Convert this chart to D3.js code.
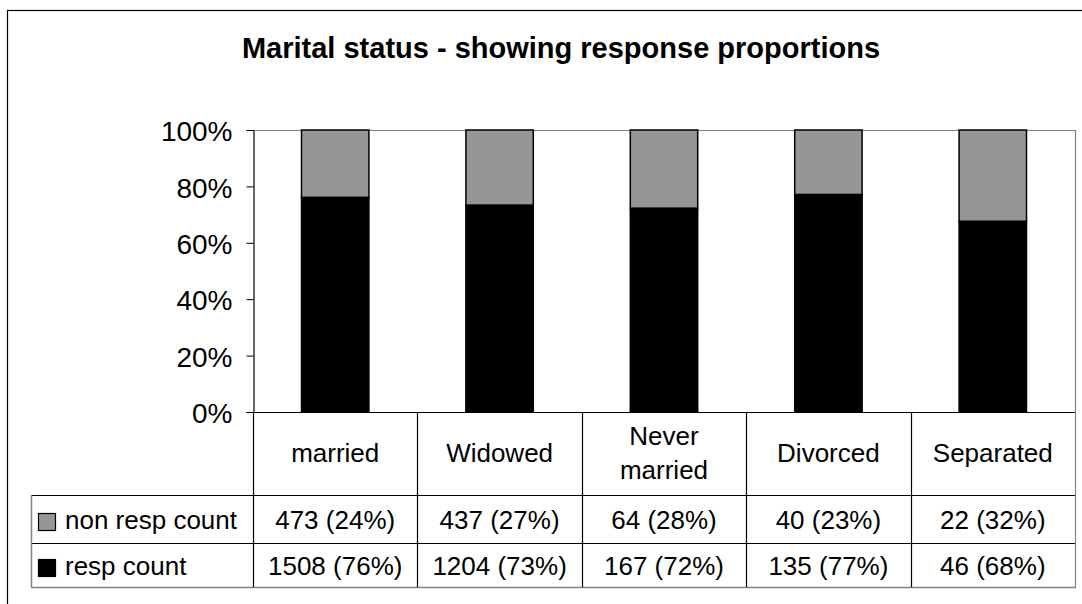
<!DOCTYPE html>
<html>
<head>
<meta charset="utf-8">
<script src="https://cdn.jsdelivr.net/npm/d3@7"></script>
<style>
  body { margin: 0; background: #fff; }
  svg { display: block; font-family: Arial, 'Liberation Sans', sans-serif; }
</style>
</head>
<body>
<div id="wrapper"></div>
<script>
// data
const categories = ['married', 'Widowed', 'Never married', 'Divorced', 'Separated']
const respCount = [1508, 1204, 167, 135, 46]
const nonRespCount = [473, 437, 64, 40, 22]
const seriesNames = ['non resp count', 'resp count']
const yTicks = [0, 0.2, 0.4, 0.6, 0.8, 1]

const title = 'Marital status - showing response proportions'

// dimensions
const dms = {
    width: 1082,
    height: 604,
    plot: { left: 253, right: 1075, top: 130, bottom: 412 },
    table: { left: 31, catBottom: 495, row1: 543, row2: 587 }
}

const rows = categories.map((c, i) => ({
    category: c,
    resp: respCount[i],
    nonResp: nonRespCount[i]
}))

const wrapper = d3.select('#wrapper')
    .append('svg')
        .attr('width', dms.width)
        .attr('height', dms.height)

// outer chart border
wrapper.append('rect')
    .attr('x', 7.5)
    .attr('y', 10.5)
    .attr('width', 1200)
    .attr('height', 700)
    .attr('fill', 'none')
    .attr('stroke', '#000')
    .attr('stroke-width', 1.2)

wrapper.append('text')
    .attr('x', 561)
    .attr('y', 58)
    .attr('text-anchor', 'middle')
    .style('font-size', '29px')
    .style('font-weight', 'bold')
    .text(title)

// scales
const colScale = d3.scaleBand()
    .domain(categories)
    .range([dms.plot.left, dms.plot.right])

const xScale = d3.scaleBand()
    .domain(categories)
    .range([dms.plot.left, dms.plot.right])
    .paddingInner(0.59)
    .paddingOuter(0.295)

const yScale = d3.scaleLinear()
    .domain([0, 1])
    .range([dms.plot.bottom, dms.plot.top])

// plot area frame (grey top/right)
wrapper.append('path')
    .attr('d', `M${dms.plot.left},${dms.plot.top + 0.5}H${dms.plot.right + 0.5}V${dms.table.row2}`)
    .attr('fill', 'none')
    .attr('stroke', '#808080')
    .attr('stroke-width', 1.2)

// stacked bars
const stack = d3.stack()
    .keys(['resp', 'nonResp'])
    .offset(d3.stackOffsetExpand)
const series = stack(rows)
const fills = { resp: '#000000', nonResp: '#969696' }

wrapper.append('g')
    .selectAll('g')
    .data(series)
    .join('g')
        .attr('fill', d => fills[d.key])
        .attr('stroke', '#000')
        .attr('stroke-width', 1.5)
    .selectAll('rect')
    .data(d => d)
    .join('rect')
        .attr('x', d => xScale(d.data.category))
        .attr('width', xScale.bandwidth())
        .attr('y', d => yScale(d[1]))
        .attr('height', d => yScale(d[0]) - yScale(d[1]))

// y axis
const yAxisGenerator = d3.axisLeft(yScale)
    .tickValues(yTicks)
    .tickFormat(d3.format('.0%'))
    .tickSize(7)
    .tickSizeOuter(0)
    .tickPadding(14)

const yAxis = wrapper.append('g')
    .attr('transform', `translate(${dms.plot.left + 0.5},0)`)
    .call(yAxisGenerator)
yAxis.select('.domain').attr('stroke', '#000').attr('stroke-width', 1.2)
yAxis.selectAll('.tick line').attr('stroke', '#000')
yAxis.selectAll('.tick text')
    .attr('fill', '#000')
    .attr('dy', '0.38em')
    .style('font-size', '28px')
    .style('font-family', 'Arial, "Liberation Sans", sans-serif')

// data table
const table = wrapper.append('g')
const lineColor = '#000'
const greyLine = '#808080'

// axis line / table top
table.append('line')
    .attr('x1', dms.plot.left - 7).attr('x2', dms.plot.right)
    .attr('y1', dms.plot.bottom + 0.5).attr('y2', dms.plot.bottom + 0.5)
    .attr('stroke', lineColor).attr('stroke-width', 1.2)

// horizontal row lines
;[dms.table.catBottom, dms.table.row1].forEach(y => {
    table.append('line')
        .attr('x1', dms.table.left).attr('x2', dms.plot.right)
        .attr('y1', y + 0.5).attr('y2', y + 0.5)
        .attr('stroke', lineColor).attr('stroke-width', 1.2)
})
table.append('line')
    .attr('x1', dms.table.left).attr('x2', dms.plot.right + 1)
    .attr('y1', dms.table.row2 + 0.5).attr('y2', dms.table.row2 + 0.5)
    .attr('stroke', greyLine).attr('stroke-width', 1.5)
table.append('line')
    .attr('x1', dms.table.left + 0.5).attr('x2', dms.table.left + 0.5)
    .attr('y1', dms.table.catBottom).attr('y2', dms.table.row2)
    .attr('stroke', greyLine).attr('stroke-width', 1.5)

// vertical column lines
categories.forEach(c => {
    const x = Math.round(colScale(c)) + 0.5
    table.append('line')
        .attr('x1', x).attr('x2', x)
        .attr('y1', dms.plot.bottom).attr('y2', dms.table.row2)
        .attr('stroke', lineColor).attr('stroke-width', 1.2)
})

// category labels (wrap long ones)
const catCenterY = (dms.plot.bottom + dms.table.catBottom) / 2
categories.forEach(c => {
    const cx = colScale(c) + colScale.bandwidth() / 2
    const label = table.append('text')
        .attr('x', cx)
        .attr('y', catCenterY + 8)
        .attr('text-anchor', 'middle')
        .style('font-size', '26px')
        .text(c)
    if (label.node().getComputedTextLength() > colScale.bandwidth() - 12) {
        const words = c.split(' ')
        label.text(null)
        words.forEach((w, i) => {
            label.append('tspan')
                .attr('x', cx)
                .attr('y', catCenterY + 8 + (i - (words.length - 1) / 2) * 34)
                .text(w)
        })
    }
})

// value rows
const pct = d3.format('.0%')
const rowDefs = [
    { name: seriesNames[0], values: nonRespCount, key: 'nonResp', top: dms.table.catBottom, bottom: dms.table.row1 },
    { name: seriesNames[1], values: respCount, key: 'resp', top: dms.table.row1, bottom: dms.table.row2 }
]

rowDefs.forEach(r => {
    const cy = (r.top + r.bottom) / 2
    table.append('rect')
        .attr('x', 38.5)
        .attr('y', cy - 5.5)
        .attr('width', 17)
        .attr('height', 17)
        .attr('fill', fills[r.key])
        .attr('stroke', '#000')
        .attr('stroke-width', 1.2)
    table.append('text')
        .attr('x', 65)
        .attr('y', cy + 10)
        .style('font-size', '26px')
        .text(r.name)
    r.values.forEach((v, i) => {
        const total = respCount[i] + nonRespCount[i]
        table.append('text')
            .attr('x', colScale(categories[i]) + colScale.bandwidth() / 2)
            .attr('y', cy + 10)
            .attr('text-anchor', 'middle')
            .style('font-size', '26px')
            .text(`${v} (${pct(v / total)})`)
    })
})
</script>
</body>
</html>
